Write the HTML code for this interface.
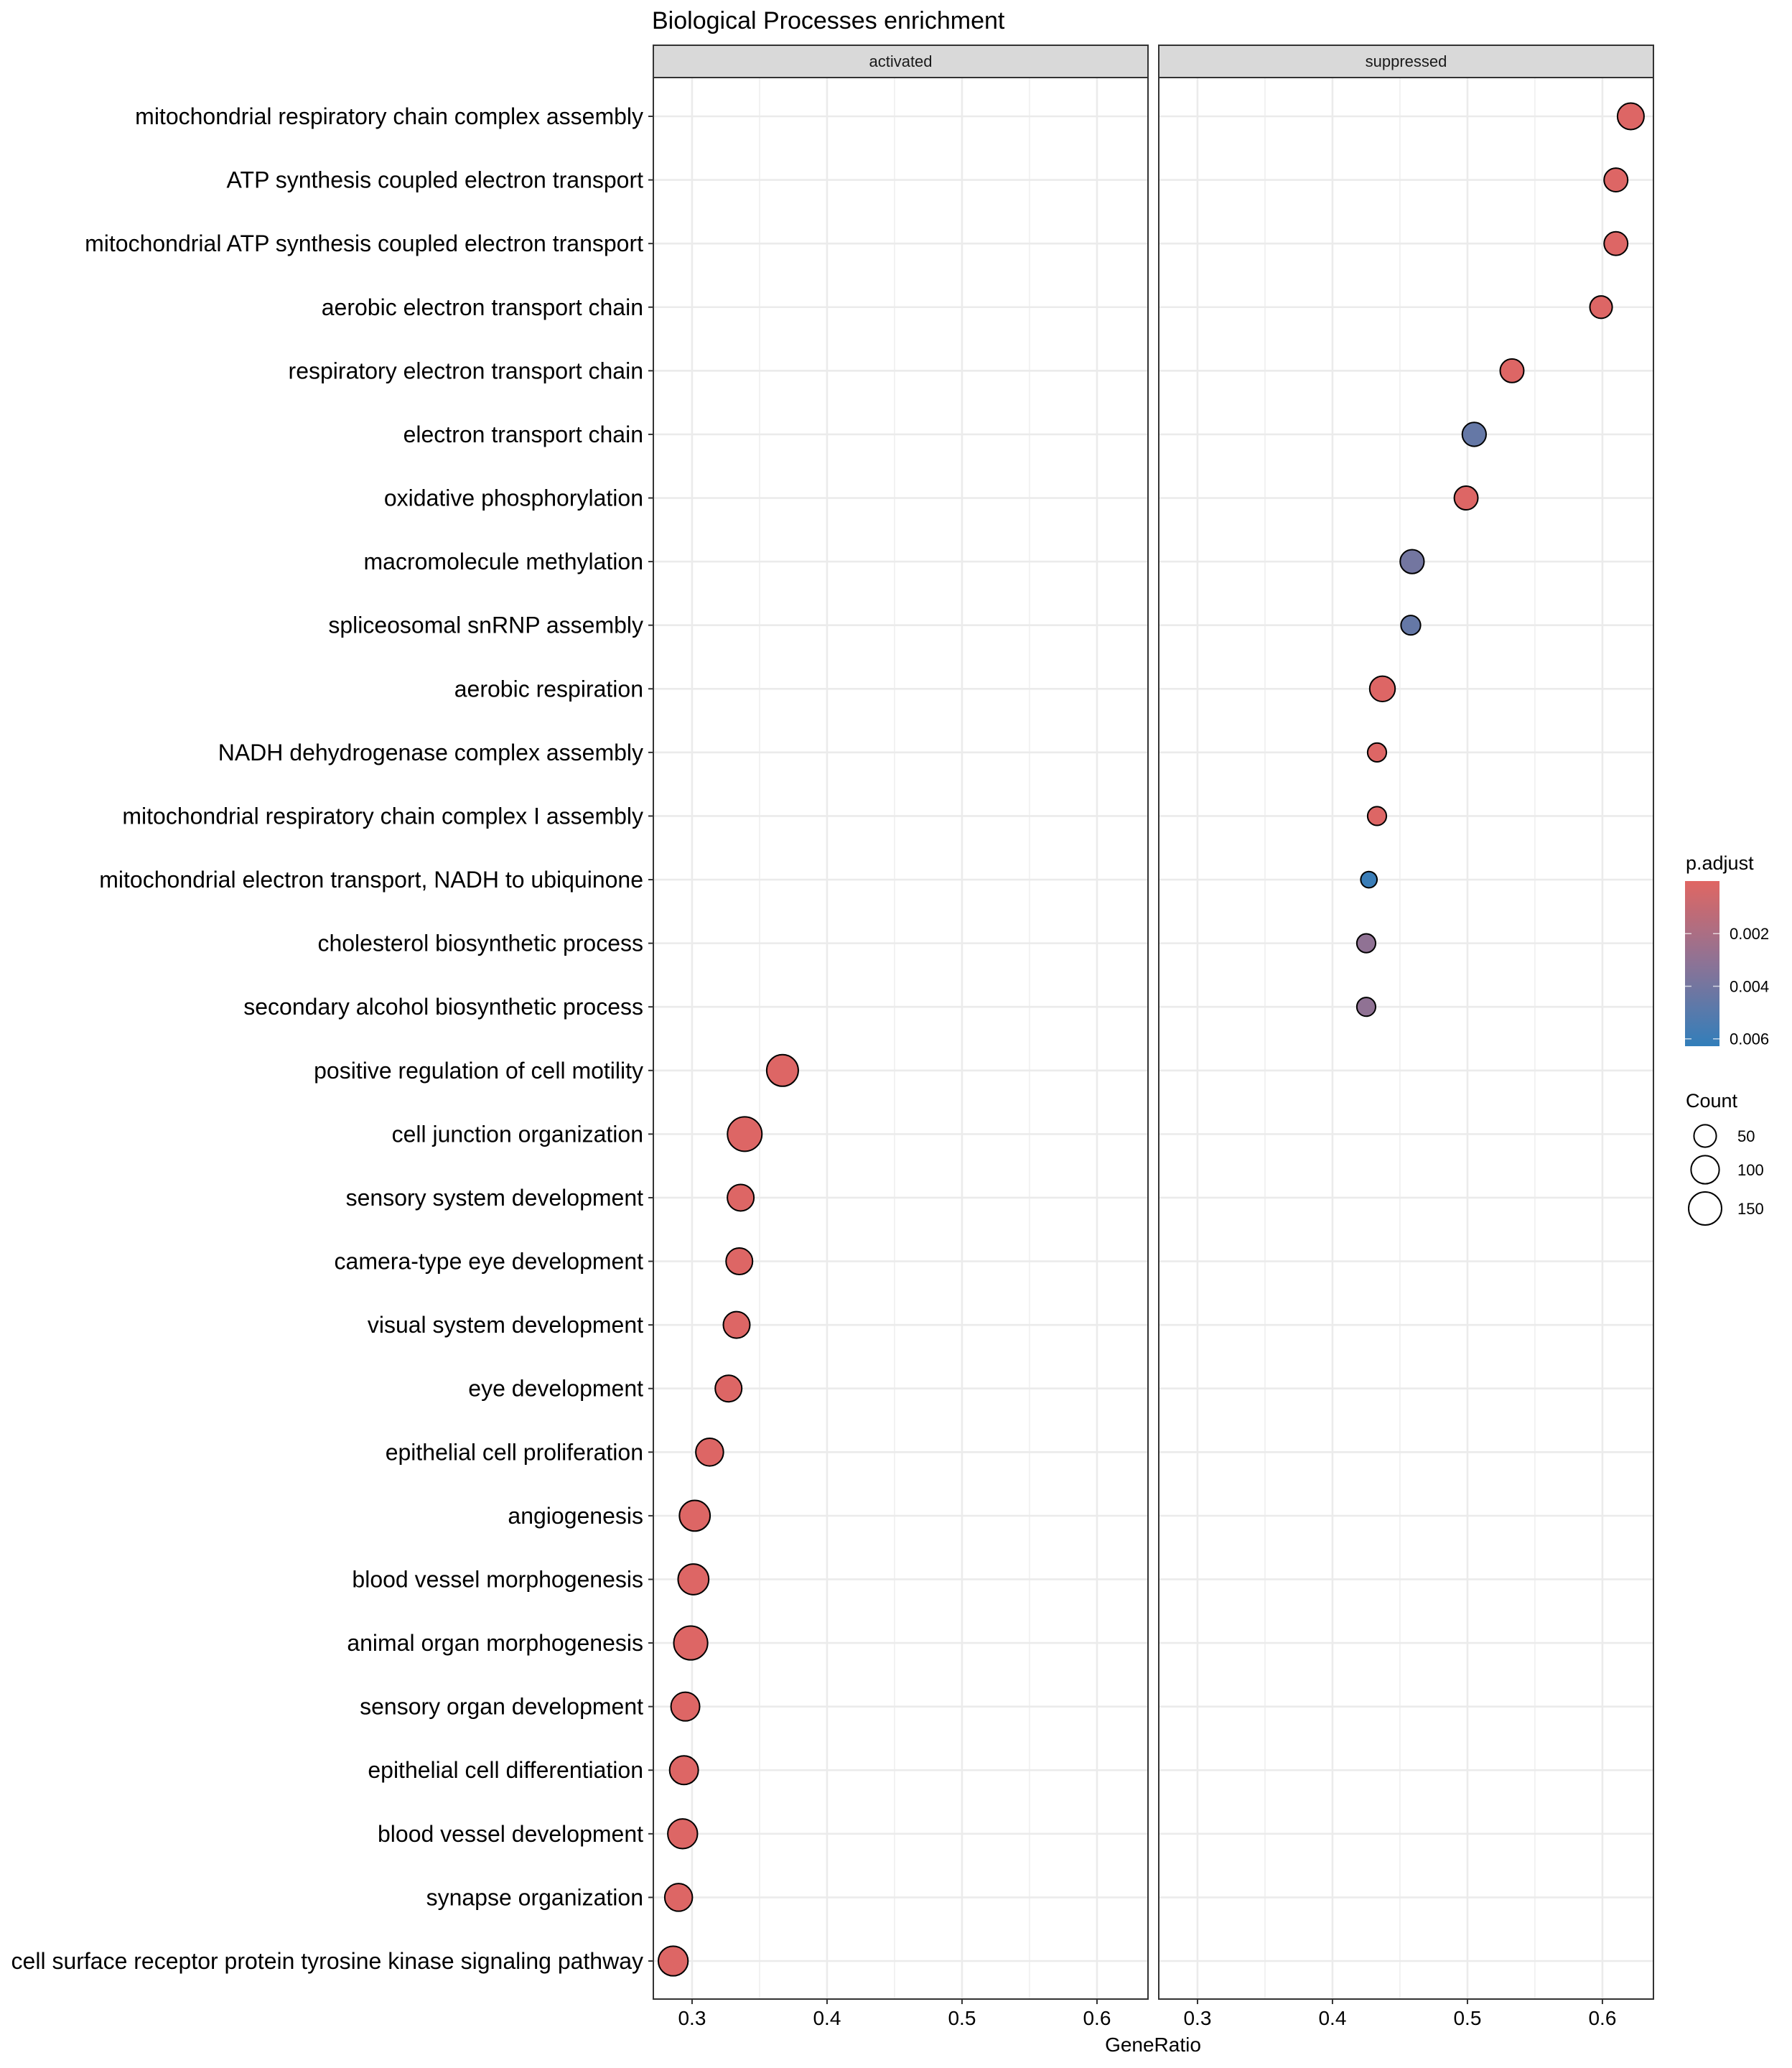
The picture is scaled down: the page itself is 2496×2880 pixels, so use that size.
<!DOCTYPE html>
<html><head><meta charset="utf-8"><style>
html,body{margin:0;padding:0;background:#fff}
svg{display:block;font-family:"Liberation Sans",Arial,sans-serif}
</style></head><body>
<svg id="chart" width="2496" height="2880" viewBox="0 0 2496 2880" xmlns="http://www.w3.org/2000/svg">
<rect width="2496" height="2880" fill="#fff"/>
<text x="908" y="40" font-size="34" fill="#000">Biological Processes enrichment</text>
<g id="grid"></g><g id="marks"></g><g id="axes"></g>
<text x="1606" y="2857" font-size="28" text-anchor="middle">GeneRatio</text>
<g id="legend"></g>
</svg>
<script>
const terms = ["mitochondrial respiratory chain complex assembly","ATP synthesis coupled electron transport","mitochondrial ATP synthesis coupled electron transport","aerobic electron transport chain","respiratory electron transport chain","electron transport chain","oxidative phosphorylation","macromolecule methylation","spliceosomal snRNP assembly","aerobic respiration","NADH dehydrogenase complex assembly","mitochondrial respiratory chain complex I assembly","mitochondrial electron transport, NADH to ubiquinone","cholesterol biosynthetic process","secondary alcohol biosynthetic process","positive regulation of cell motility","cell junction organization","sensory system development","camera-type eye development","visual system development","eye development","epithelial cell proliferation","angiogenesis","blood vessel morphogenesis","animal organ morphogenesis","sensory organ development","epithelial cell differentiation","blood vessel development","synapse organization","cell surface receptor protein tyrosine kinase signaling pathway"];
const panels = ["suppressed","suppressed","suppressed","suppressed","suppressed","suppressed","suppressed","suppressed","suppressed","suppressed","suppressed","suppressed","suppressed","suppressed","suppressed","activated","activated","activated","activated","activated","activated","activated","activated","activated","activated","activated","activated","activated","activated","activated"];
const geneRatio = [0.621,0.610,0.610,0.599,0.533,0.505,0.499,0.459,0.458,0.437,0.433,0.433,0.427,0.425,0.425,0.367,0.339,0.336,0.335,0.333,0.327,0.313,0.302,0.301,0.299,0.295,0.294,0.293,0.290,0.286];
const counts = [85,60,60,50,60,62,60,62,30,75,25,25,10,25,25,135,167,85,85,85,85,95,125,125,160,105,105,115,95,115];
const pAdjust = [0.0001,0.0001,0.0001,0.0001,0.0001,0.0045,0.0001,0.004,0.0045,0.0001,0.0001,0.0001,0.006,0.003,0.003,0.0001,0.0001,0.0001,0.0001,0.0001,0.0001,0.0001,0.0001,0.0001,0.0001,0.0001,0.0001,0.0001,0.0001,0.0001];
const xTicks = [0.3,0.4,0.5,0.6];
const xMinor = [0.35,0.45,0.55];
const pTicks = [0.002,0.004,0.006];
const countTicks = [50,100,150];

const NS="http://www.w3.org/2000/svg";
function mk(tag,attrs,parent,text){const e=document.createElementNS(NS,tag);for(const k in attrs)e.setAttribute(k,attrs[k]);if(text!==undefined)e.textContent=text;parent.appendChild(e);return e;}
const P={activated:{x0:910,x1:1599},suppressed:{x0:1614,x1:2303}};
const yTop=108,yBottom=2784,xmin=0.2713,xmax=0.6378;
function xs(p,v){const q=P[p];return q.x0+(v-xmin)/(xmax-xmin)*(q.x1-q.x0);}
function ys(i){return 162+i*(2731-162)/29;}
function rs(c){return Math.sqrt(100+2.85*c);}
const c0=[224,102,99],c1=[50,126,186],cm=[140,115,150];
function col(p){let t=Math.max(0,Math.min(1,p/0.00628));let a,b,u;if(t<0.5){a=c0;b=cm;u=t*2}else{a=cm;b=c1;u=(t-0.5)*2}
return "rgb("+a.map((v,k)=>Math.round(v+(b[k]-v)*u)).join(",")+")";}
const grid=document.getElementById('grid'),marks=document.getElementById('marks'),axes=document.getElementById('axes'),leg=document.getElementById('legend');
["activated","suppressed"].forEach(p=>{
 const q=P[p];
 const panel=mk('g',{},grid);
 
 
 mk('rect',{x:q.x0,y:yTop,width:q.x1-q.x0,height:yBottom-yTop,fill:'#fff'},panel);
 xMinor.forEach(v=>mk('line',{x1:xs(p,v),x2:xs(p,v),y1:yTop,y2:yBottom,stroke:'#ebebeb','stroke-width':1.3},panel));
 xTicks.forEach(v=>mk('line',{x1:xs(p,v),x2:xs(p,v),y1:yTop,y2:yBottom,stroke:'#ebebeb','stroke-width':2.6},panel));
 terms.forEach((t,i)=>mk('line',{x1:q.x0,x2:q.x1,y1:ys(i),y2:ys(i),stroke:'#ebebeb','stroke-width':2.6},panel));
 mk('rect',{x:q.x0,y:yTop,width:q.x1-q.x0,height:yBottom-yTop,fill:'none',stroke:'#333','stroke-width':2},axes);
 const strip=mk('rect',{x:q.x0,y:63,width:q.x1-q.x0,height:45,fill:'#d9d9d9',stroke:'#333','stroke-width':2},axes);
 
 
 const st=mk('text',{x:(q.x0+q.x1)/2,y:93,'font-size':22,'text-anchor':'middle',fill:'#1a1a1a'},axes,p);
 
 
 xTicks.forEach(v=>{
  mk('line',{x1:xs(p,v),x2:xs(p,v),y1:yBottom,y2:yBottom+7,stroke:'#333','stroke-width':2},axes);
  const tl=mk('text',{x:xs(p,v),y:2820,'font-size':28,'text-anchor':'middle',fill:'#000'},axes,String(v));
  
  
 });
});
terms.forEach((t,i)=>{
 mk('line',{x1:903,x2:910,y1:ys(i),y2:ys(i),stroke:'#333','stroke-width':2},axes);
 const l=mk('text',{x:896,y:ys(i)+11,'font-size':32,'text-anchor':'end',fill:'#000'},axes,t);
 
 
 const c=mk('circle',{cx:xs(panels[i],geneRatio[i]),cy:ys(i),r:rs(counts[i]),fill:col(pAdjust[i]),stroke:'#000','stroke-width':2},marks);
 
 
});
const lt=mk('text',{x:2348,y:1211,'font-size':27},leg,'p.adjust');


const defs=mk('defs',{},leg);
const gr=mk('linearGradient',{id:'pg',x1:0,y1:0,x2:0,y2:1},defs);
for(let k=0;k<=10;k++)mk('stop',{offset:k/10,'stop-color':col(k/10*0.00628)},gr);
const bar=mk('rect',{x:2347,y:1227,width:48,height:230,fill:'url(#pg)'},leg);


pTicks.forEach(v=>{const y=1227+v/0.00628*230;
 mk('line',{x1:2347,x2:2356,y1:y,y2:y,stroke:'#fff','stroke-width':1.5,opacity:0.7},leg);
 mk('line',{x1:2386,x2:2395,y1:y,y2:y,stroke:'#fff','stroke-width':1.5,opacity:0.7},leg);
 const t=mk('text',{x:2409,y:y+8,'font-size':22},leg,v.toFixed(3));
 
 
});
const ct=mk('text',{x:2348,y:1542,'font-size':27},leg,'Count');


const cy=[1582,1629,1683];
countTicks.forEach((v,k)=>{
 const c=mk('circle',{cx:2375,cy:cy[k],r:rs(v),fill:'none',stroke:'#000','stroke-width':2},leg);
 
 
 const t=mk('text',{x:2420,y:cy[k]+8,'font-size':22},leg,String(v));
 
 
});
</script>
</body></html>
